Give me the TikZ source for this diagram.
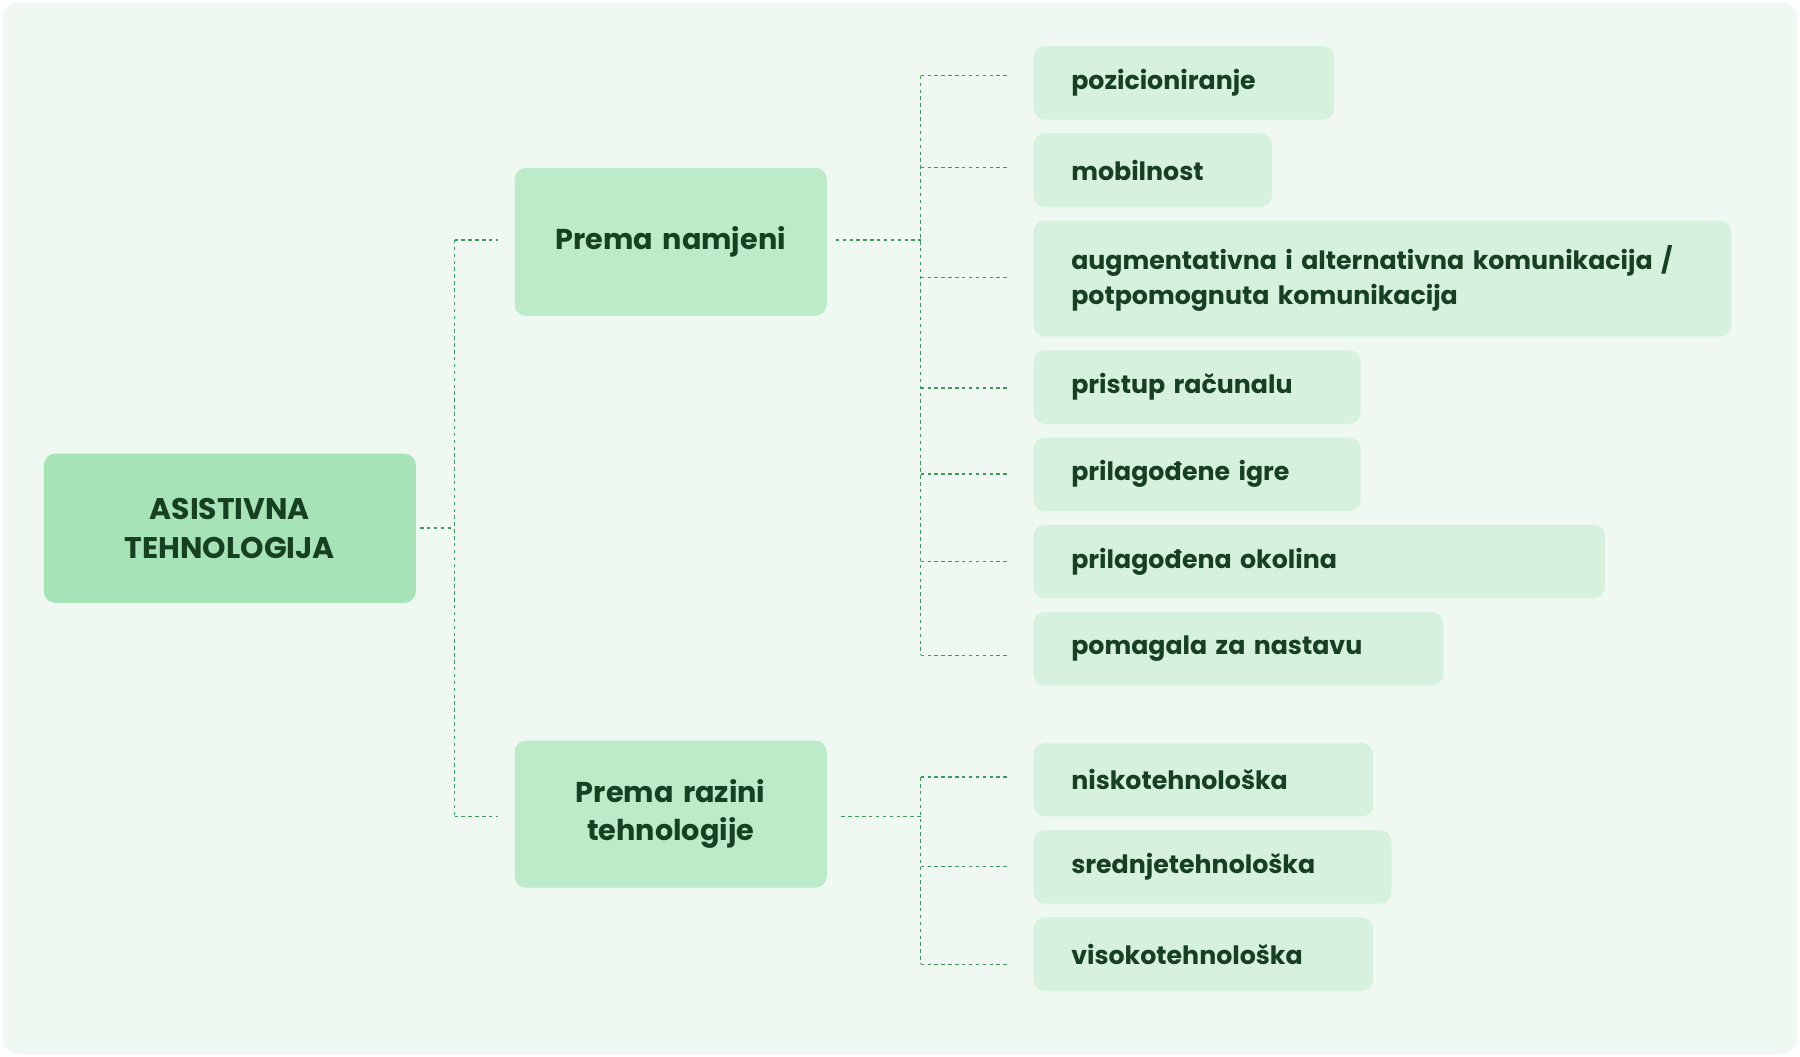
\documentclass[tikz,border=0pt]{standalone}
\usepackage{fontspec}
\setmainfont{Poppins}
\usetikzlibrary{calc}
\definecolor{bg}{HTML}{F0F8F2}
\definecolor{rootc}{HTML}{A6E3B6}
\definecolor{midc}{HTML}{BDEAC9}
\definecolor{leafc}{HTML}{D6F1DD}
\definecolor{txt}{HTML}{173F22}
\definecolor{ln}{HTML}{3E9A5A}
\begin{document}
\begin{tikzpicture}[x=1pt,y=-1pt,
 box/.style={anchor=north west,rounded corners=10pt,inner ysep=0pt,text=txt,font=\bfseries},
 leaf/.style={box,fill=leafc,inner xsep=33pt,align=left,font=\fontsize{22}{30}\selectfont\bfseries},
 mid/.style={box,fill=midc,align=center,inner xsep=0pt,font=\fontsize{25}{33}\selectfont\bfseries},
 con/.style={ln,line width=1.2pt,dash pattern=on 3pt off 3pt}]
\useasboundingbox (0,0) rectangle (1568,920);
\fill[bg,rounded corners=14pt] (2,2) rectangle (1566,918);
\node[box,fill=rootc,align=center,inner xsep=0pt,minimum width=324pt,minimum height=130pt,text width=324pt,font=\fontsize{26}{34}\selectfont\bfseries] (root) at (38,395) {ASISTIVNA\\TEHNOLOGIJA};
\node[mid,minimum width=272pt,minimum height=129pt,text width=272pt] (m1) at (448,146) {Prema namjeni};
\node[mid,minimum width=272pt,minimum height=128pt,text width=272pt] (m2) at (448,645) {Prema razini\\tehnologije};
\foreach \n/\y/\w/\h/\t in {l1/40/262/64/pozicioniranje, l2/116/208/64/mobilnost,
 l3/192/608/101/{augmentativna i alternativna komunikacija /\\potpomognuta komunikacija},
 l4/305/285/64/pristup računalu, l5/381/285/64/prilagođene igre,
 l6/457/498/64/prilagođena okolina / domotika, l7/533/357/64/pomagala za nastavu,
 l8/647/296/64/niskotehnološka, l9/723/312/64/srednjetehnološka, l10/799/296/64/visokotehnološka}
 {\node[leaf,minimum width=\w pt,minimum height=\h pt,text width=\w pt-66pt] (\n) at (900,\y) {\t};}
% connectors
\coordinate (r1) at (366,460); \coordinate (j1) at (396,460);
\coordinate (a1) at (396,209); \coordinate (a2) at (396,711);
\coordinate (b1) at (434,209); \coordinate (b2) at (434,711);
\draw[con] (r1) -- (j1); \draw[con] (a1) -- (a2);
\draw[con] (a1) -- (b1); \draw[con] (a2) -- (b2);
\coordinate (m1o) at (728,209); \coordinate (m1j) at (802,209);
\draw[con] (m1o) -- (m1j);
\draw[con] (802,66) -- (802,571);
\foreach \y in {66,146,242,338,413,489,571}{\draw[con] (802,\y) -- (878,\y);}
\coordinate (m2o) at (733,711); \coordinate (m2j) at (802,711);
\draw[con] (m2o) -- (m2j);
\draw[con] (802,677) -- (802,840);
\foreach \y in {677,755,840}{\draw[con] (802,\y) -- (878,\y);}
\end{tikzpicture}
\end{document}
